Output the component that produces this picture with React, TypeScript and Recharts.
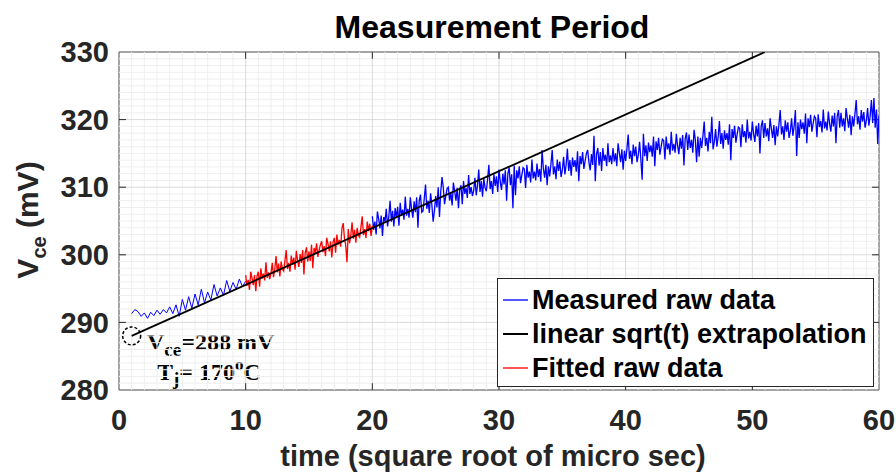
import React from 'react';
import {
  LineChart,
  Line,
  XAxis,
  YAxis,
  ReferenceLine,
  ReferenceArea,
  ReferenceDot,
  Customized,
} from 'recharts';

const X_TICKS = [0, 10, 20, 30, 40, 50, 60];
const Y_TICKS = [280, 290, 300, 310, 320, 330];

// measured raw data, first blue stretch (x = 1 .. 10, step 0.25)
const MEASURED_A_START = 1;
const MEASURED_A_STEP = 0.25;
const MEASURED_A = [
  291.3, 291.9, 291.6, 290.9, 291.4, 290.6, 291.5, 291.0, 291.8, 291.2,
  291.9, 291.4, 292.3, 291.3, 292.6, 290.9, 293.4, 291.8, 293.8, 292.1,
  294.2, 292.6, 294.9, 292.9, 294.5, 293.3, 295.6, 293.9, 295.1, 294.0,
  296.2, 294.6, 295.9, 294.9, 296.4, 295.3, 296.1,
];

// fitted raw data (x = 10 .. 20, step 0.1)
const FITTED_START = 10;
const FITTED_STEP = 0.1;
const FITTED = [
  297.0, 295.4, 296.3, 294.8, 297.5, 296.6, 295.5, 297.0, 294.6, 296.9,
  297.5, 295.3, 298.0, 296.5, 297.2, 296.2, 298.9, 296.6, 297.4, 296.4,
  297.3, 298.8, 296.7, 297.9, 299.8, 297.4, 298.7, 296.8, 299.0, 297.9,
  297.6, 299.1, 300.7, 297.9, 298.8, 297.5, 299.9, 298.5, 299.6, 297.8,
  300.6, 299.1, 298.2, 300.1, 298.8, 300.7, 297.1, 300.3, 301.1, 299.0,
  300.5, 299.1, 301.5, 298.0, 301.0, 300.3, 301.7, 299.7, 300.7, 301.5,
  302.0, 300.4, 301.3, 299.8, 302.5, 301.6, 300.5, 302.0, 299.6, 301.9,
  302.5, 300.3, 303.0, 301.5, 302.2, 301.2, 303.9, 304.7, 302.4, 301.4,
  298.9, 303.8, 301.7, 302.9, 304.8, 302.4, 303.7, 301.8, 304.0, 302.9,
  302.6, 304.1, 305.7, 302.9, 303.8, 302.5, 304.9, 303.5, 304.6, 302.8,
  304.3,
];

// measured raw data, second blue stretch (x = 20 .. 60, step 0.1)
const MEASURED_B_START = 20;
const MEASURED_B_STEP = 0.1;
const MEASURED_B = [
  305.7, 303.7, 304.9, 303.0, 306.4, 305.3, 303.9, 305.8, 302.8, 305.6,
  304.9, 306.8, 304.2, 305.6, 308.0, 304.9, 306.5, 304.2, 306.9, 305.5,
  307.1, 304.3, 307.7, 305.8, 306.7, 305.2, 308.6, 305.8, 306.8, 305.5,
  308.5, 306.7, 305.5, 307.9, 306.3, 308.5, 304.0, 308.0, 308.9, 306.3,
  306.5, 308.3, 310.4, 306.8, 308.0, 306.2, 309.1, 307.4, 304.9, 306.5,
  308.7, 307.0, 310.0, 305.6, 309.3, 311.5, 310.0, 307.5, 308.7, 309.8,
  310.0, 308.0, 309.2, 307.3, 310.7, 309.4, 308.0, 309.9, 306.9, 309.7,
  310.3, 307.5, 310.9, 309.0, 309.9, 308.4, 311.8, 309.0, 310.0, 308.7,
  309.5, 311.4, 308.8, 310.2, 312.6, 309.3, 310.9, 308.6, 311.3, 309.9,
  309.4, 311.2, 313.3, 309.7, 310.9, 309.0, 311.9, 310.2, 311.6, 309.3,
  312.6, 310.8, 309.6, 312.0, 310.4, 312.5, 308.0, 312.0, 312.9, 310.3,
  311.9, 306.9, 313.2, 308.8, 312.5, 311.3, 313.1, 310.6, 311.8, 312.9,
  312.7, 309.9, 313.3, 311.4, 312.3, 310.7, 314.1, 311.3, 312.3, 311.0,
  313.5, 311.5, 312.7, 310.8, 315.5, 312.8, 311.4, 313.3, 310.3, 313.1,
  311.6, 313.4, 315.5, 311.9, 313.1, 311.2, 314.1, 312.4, 313.8, 311.5,
  312.6, 314.5, 311.9, 313.3, 315.7, 312.4, 314.0, 311.7, 314.4, 313.0,
  314.0, 312.3, 315.3, 310.9, 314.6, 313.4, 315.2, 312.7, 313.9, 315.0,
  315.5, 313.7, 312.5, 314.9, 313.3, 317.6, 310.9, 314.9, 315.8, 313.2,
  315.2, 312.4, 315.8, 313.9, 314.8, 313.1, 316.5, 313.7, 314.7, 313.4,
  315.8, 313.8, 315.0, 313.1, 316.5, 315.1, 313.7, 315.6, 312.6, 315.4,
  313.9, 315.7, 317.8, 314.2, 315.4, 313.4, 316.3, 314.6, 316.0, 313.7,
  314.8, 316.7, 314.1, 311.1, 317.9, 314.6, 316.2, 313.9, 316.6, 315.2,
  316.2, 314.5, 317.5, 313.1, 316.8, 315.5, 317.3, 314.8, 316.0, 317.1,
  316.9, 314.1, 317.5, 315.6, 316.5, 314.8, 318.2, 315.4, 316.4, 315.1,
  317.9, 316.1, 314.9, 317.3, 315.7, 317.7, 313.2, 317.2, 318.1, 315.5,
  317.8, 315.8, 317.0, 315.1, 318.5, 317.0, 313.7, 317.5, 314.5, 317.3,
  315.8, 317.6, 319.7, 316.1, 317.3, 315.3, 318.2, 316.5, 320.4, 315.6,
  316.7, 318.6, 316.0, 317.4, 319.8, 316.4, 318.0, 315.7, 318.4, 317.0,
  318.0, 316.3, 319.3, 314.0, 318.6, 317.3, 319.1, 316.6, 317.8, 318.9,
  318.7, 315.9, 319.3, 317.4, 318.3, 316.6, 320.0, 317.2, 318.2, 316.9,
  319.7, 317.9, 316.7, 319.1, 317.5, 319.5, 315.0, 319.0, 319.9, 317.3,
  319.5, 317.5, 318.7, 316.8, 320.2, 318.7, 317.3, 319.2, 316.2, 319.0,
  317.5, 319.3, 321.4, 317.8, 319.0, 317.0, 319.9, 318.2, 319.6, 317.3,
  318.3, 320.2, 317.6, 319.0, 321.4, 314.6, 319.6, 317.3, 320.0, 318.6,
  319.6, 317.9, 320.9, 316.5, 320.2, 318.9, 320.7, 318.2, 319.4, 320.5,
  320.2, 317.4, 320.8, 318.9, 319.8, 318.1, 321.5, 318.7, 319.7, 318.4,
  321.2, 319.4, 318.2, 320.6, 319.0, 321.0, 316.5, 320.5, 321.4, 318.8,
  321.0, 319.0, 320.2, 318.3, 321.7, 320.2, 318.8, 320.7, 317.7, 320.5,
  319.0, 320.8, 322.9, 319.3, 320.5, 318.5, 321.4, 319.7, 321.1, 318.8,
  319.8, 321.7, 319.1, 320.5, 322.9, 319.5, 323.2, 318.8, 321.5, 316.4,
  320.6,
];

// linear sqrt(t) extrapolation end points
const EXTRAP_X = [1, 51];
const EXTRAP_Y = [288, 330];

const LEGEND_ITEMS = [
  { label: 'Measured raw data', color: '#5555ff' },
  { label: 'linear sqrt(t) extrapolation', color: '#000000' },
  { label: 'Fitted raw data', color: '#ff5555' },
];

const SANS = '"Liberation Sans", Arial, Helvetica, sans-serif';
const SERIF = '"Liberation Serif", "Times New Roman", serif';
const AXIS_COLOR = '#262626';

const toPoints = (start: number, step: number, ys: number[]) =>
  ys.map((y, i) => ({ x: +(start + i * step).toFixed(2), y }));

const measuredA = toPoints(MEASURED_A_START, MEASURED_A_STEP, MEASURED_A);
const fitted = toPoints(FITTED_START, FITTED_STEP, FITTED);
const measuredB = toPoints(MEASURED_B_START, MEASURED_B_STEP, MEASURED_B);
const extrap = EXTRAP_X.map((x, i) => ({ x, y: EXTRAP_Y[i] }));

const minorX: number[] = [];
for (let v = 1; v < 60; v++) if (v % 10 !== 0) minorX.push(v);
const minorY: number[] = [];
for (let v = 281; v < 330; v++) if (v % 10 !== 0) minorY.push(v);
const innerX = X_TICKS.slice(1, -1);
const innerY = Y_TICKS.slice(1, -1);

function LegendBox() {
  return (
    <div
      style={{
        position: 'absolute',
        left: 497,
        top: 278,
        width: 377,
        height: 109,
        boxSizing: 'border-box',
        border: '1px solid #262626',
        background: '#fff',
        padding: '4px 0 0 5px',
        fontFamily: SANS,
        fontWeight: 700,
        fontSize: 27,
        lineHeight: '34px',
        color: '#000',
      }}
    >
      {LEGEND_ITEMS.map((it) => (
        <div key={it.label} style={{ display: 'flex', alignItems: 'center', whiteSpace: 'nowrap' }}>
          <span style={{ display: 'inline-block', width: 25, height: 1.5, background: it.color, marginRight: 4 }} />
          <span>{it.label}</span>
        </div>
      ))}
    </div>
  );
}

function Texts() {
  return (
    <g>
      <text x={492} y={38} textAnchor="middle" fontFamily={SANS} fontWeight={700} fontSize={32} fill="#000">
        Measurement Period
      </text>
      <text x={493} y={466} textAnchor="middle" fontFamily={SANS} fontWeight={700} fontSize={29} fill={AXIS_COLOR}>
        time (square root of micro sec)
      </text>
      <text
        x={38}
        y={220}
        transform="rotate(-90, 38, 220)"
        textAnchor="middle"
        fontFamily={SANS}
        fontWeight={700}
        fontSize={30}
        fill={AXIS_COLOR}
      >
        V<tspan fontSize={20} dy={8}>ce</tspan>
        <tspan dy={-8}> (mV)</tspan>
      </text>
      <text x={147} y={350} fontFamily={SERIF} fontWeight={700} fontSize={24} fill="#000">
        V<tspan fontSize={19} dy={6}>ce</tspan>
        <tspan dy={-6}>=288 mV</tspan>
      </text>
      <text x={157} y={380} fontFamily={SERIF} fontWeight={700} fontSize={24} fill="#000">
        T<tspan fontSize={19} dy={5}>j</tspan>
        <tspan dy={-5}>= 170</tspan>
        <tspan fontSize={17} dy={-10}>o</tspan>
        <tspan dy={10}>C</tspan>
      </text>
    </g>
  );
}

export default function App() {
  const tick = { fontSize: 29, fontWeight: 700, fill: AXIS_COLOR, fontFamily: SANS };
  return (
    <div style={{ position: 'absolute', left: 0, top: 0, width: 896, height: 472, background: '#fff' }}>
      <LineChart width={896} height={472} margin={{ top: 52, right: 17, left: 0, bottom: 0 }}>
        <XAxis
          type="number"
          dataKey="x"
          domain={[0, 60]}
          ticks={X_TICKS}
          interval={0}
          height={82}
          axisLine={false}
          tickLine={false}
          tickSize={0}
          tickMargin={19}
          tick={tick}
          allowDataOverflow
        />
        <YAxis
          type="number"
          dataKey="y"
          domain={[280, 330]}
          ticks={Y_TICKS}
          interval={0}
          width={119}
          axisLine={false}
          tickLine={false}
          tickSize={0}
          tickMargin={10}
          tick={tick}
          allowDataOverflow
        />

        {minorX.map((v) => (
          <ReferenceLine key={'mx' + v} x={v} stroke="#efefef" strokeWidth={1} />
        ))}
        {minorY.map((v) => (
          <ReferenceLine key={'my' + v} y={v} stroke="#efefef" strokeWidth={1} />
        ))}
        {innerX.map((v) => (
          <ReferenceLine key={'gx' + v} x={v} stroke="#dadada" strokeWidth={1} />
        ))}
        {innerY.map((v) => (
          <ReferenceLine key={'gy' + v} y={v} stroke="#dadada" strokeWidth={1} />
        ))}

        {innerX.map((v) => (
          <ReferenceLine key={'tb' + v} segment={[{ x: v, y: 280 }, { x: v, y: 281 }]} stroke={AXIS_COLOR} />
        ))}
        {innerX.map((v) => (
          <ReferenceLine key={'tt' + v} segment={[{ x: v, y: 329 }, { x: v, y: 330 }]} stroke={AXIS_COLOR} />
        ))}
        {innerY.map((v) => (
          <ReferenceLine key={'tl' + v} segment={[{ x: 0, y: v }, { x: 0.55, y: v }]} stroke={AXIS_COLOR} />
        ))}
        {innerY.map((v) => (
          <ReferenceLine key={'tr' + v} segment={[{ x: 59.45, y: v }, { x: 60, y: v }]} stroke={AXIS_COLOR} />
        ))}

        <Line data={measuredA} dataKey="y" type="linear" stroke="#0000ff" strokeWidth={1} dot={false} isAnimationActive={false} />
        <Line data={measuredB} dataKey="y" type="linear" stroke="#0000ff" strokeWidth={1.3} dot={false} isAnimationActive={false} />
        <Line data={fitted} dataKey="y" type="linear" stroke="#ff0000" strokeWidth={1.3} dot={false} isAnimationActive={false} />
        <Line data={extrap} dataKey="y" type="linear" stroke="#000000" strokeWidth={1.8} dot={false} isAnimationActive={false} />

        <ReferenceArea x1={0} x2={60} y1={280} y2={330} fill="#fff" fillOpacity={0} stroke="#4a4a4a" strokeWidth={1} />
        <ReferenceDot x={1} y={288} r={9} fill="none" stroke="#000" strokeWidth={1.5} strokeDasharray="3 2" />

        <Customized component={Texts} />
      </LineChart>
      <LegendBox />
    </div>
  );
}
